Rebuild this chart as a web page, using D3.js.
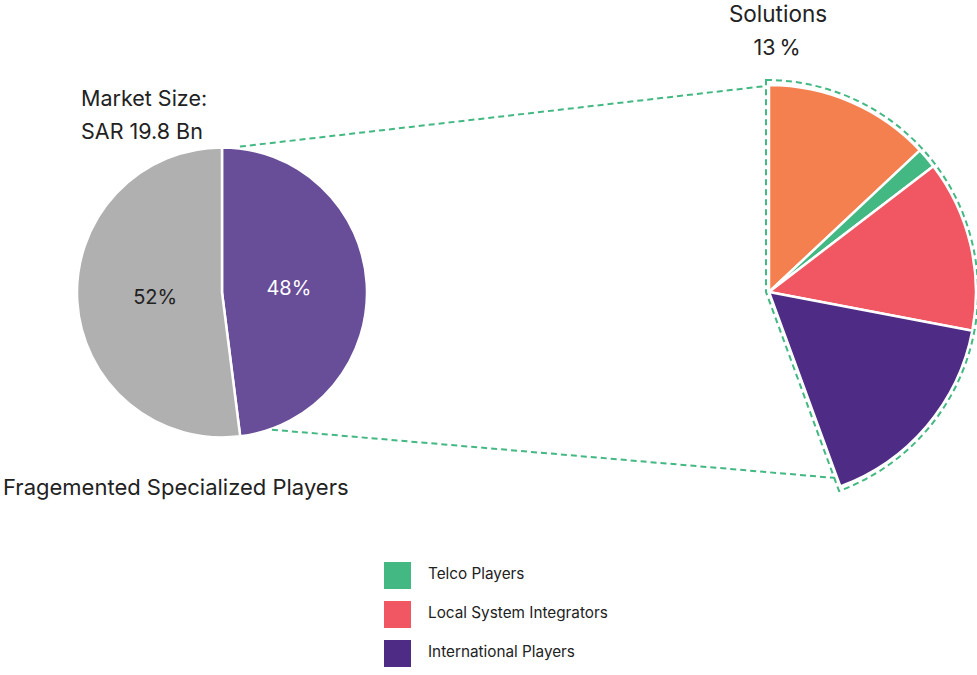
<!DOCTYPE html>
<html>
<head>
<meta charset="utf-8">
<script src="https://cdn.jsdelivr.net/npm/d3@7/dist/d3.min.js"></script>
<style>
  html, body { margin: 0; padding: 0; background: #fff; }
  svg { display: block; font-family: "Inter", "Noto Sans", sans-serif; }
</style>
</head>
<body>
<svg id="chart" width="977" height="675"></svg>
<script>
// Market split (percent of total market)
const marketCategories = ["Solutions", "Fragemented Specialized Players"];
const marketShares = [48, 52];
const marketColors = ["#684d98", "#b0b0b0"];
const marketLabelColors = ["#ffffff", "#222222"];

// Breakdown of the exploded share (percent of total market)
const segmentCategories = ["Solutions", "Telco Players", "Local System Integrators", "International Players"];
const segmentShares = [13, 1.6, 13.4, 16.4];
const segmentColors = ["#f4804f", "#43b883", "#f15663", "#4e2b84"];

// Legend entries
const legendCategories = ["Telco Players", "Local System Integrators", "International Players"];

const svg = d3.select("#chart");
const deg = Math.PI / 180;
const dashColor = "#43b883";
const polar = (c, r, a) => [c[0] + r * Math.sin(a), c[1] - r * Math.cos(a)];

// ---- left pie ----
const leftCenter = [222, 292.5];
const leftR = 145;
const leftPie = d3.pie().sort(null).value(d => d)(marketShares);
const leftArc = d3.arc().innerRadius(0).outerRadius(leftR);
const leftLabelArc = d3.arc().innerRadius(67).outerRadius(67);

const gl = svg.append("g").attr("transform", `translate(${leftCenter})`);
gl.selectAll("path").data(leftPie).join("path")
  .attr("d", leftArc)
  .attr("fill", (d, i) => marketColors[i])
  .attr("stroke", "#fff").attr("stroke-width", 2.5);
gl.selectAll("text").data(leftPie).join("text")
  .attr("transform", d => `translate(${leftLabelArc.centroid(d)})`)
  .attr("dy", "0.36em")
  .attr("text-anchor", "middle")
  .attr("font-size", 20)
  .attr("fill", (d, i) => marketLabelColors[i])
  .text(d => d.data + "%");

// ---- right partial pie ----
const rightCenter = [769, 292];
const rightR = 207;
const segTotal = d3.sum(segmentShares);
const endAngle = 2 * Math.PI * segTotal / 100;
const rightPie = d3.pie().sort(null).value(d => d)
  .startAngle(0).endAngle(endAngle)(segmentShares);
const rightArc = d3.arc().innerRadius(0).outerRadius(rightR);

const gr = svg.append("g").attr("transform", `translate(${rightCenter})`);
gr.selectAll("path").data(rightPie).join("path")
  .attr("d", rightArc)
  .attr("fill", (d, i) => segmentColors[i])
  .attr("stroke", "#fff").attr("stroke-width", 2.5)
  .attr("stroke-linejoin", "round");

// dashed outline around the exploded sector
const outlineCenter = [rightCenter[0] - 3, rightCenter[1]];
const outlineArc = d3.arc().innerRadius(0).outerRadius(212)
  .startAngle(0).endAngle(endAngle);
svg.append("path")
  .attr("transform", `translate(${outlineCenter})`)
  .attr("d", outlineArc())
  .attr("fill", "none")
  .attr("stroke", dashColor).attr("stroke-width", 2)
  .attr("stroke-dasharray", "6,4");

// connector lines between the two pies
const connectors = [
  [polar(leftCenter, 147, 7 * deg), polar(outlineCenter, 206, 0)],
  [polar(leftCenter, 146, 160 * deg), polar(outlineCenter, 198, endAngle)]
];
svg.selectAll("line.conn").data(connectors).join("line")
  .attr("class", "conn")
  .attr("x1", d => d[0][0]).attr("y1", d => d[0][1])
  .attr("x2", d => d[1][0]).attr("y2", d => d[1][1])
  .attr("stroke", dashColor).attr("stroke-width", 2)
  .attr("stroke-dasharray", "6,4");

// ---- titles ----
const textColor = "#222";
const title = (x, y, s, size, anchor = "start") => svg.append("text")
  .attr("x", x).attr("y", y).attr("font-size", size)
  .attr("fill", textColor).attr("text-anchor", anchor).text(s);

title(778, 21.5, segmentCategories[0], 22.5, "middle");
title(777, 55, segmentShares[0] + "\u2009%", 21.5, "middle");
title(81, 106, "Market Size:", 21.5);
title(81, 139, "SAR 19.8 Bn", 21.5);
title(3, 495, marketCategories[1], 22);

// ---- legend ----
const legend = svg.append("g").attr("transform", "translate(384,562)");
const legendY = d3.scalePoint().domain(legendCategories).range([0, 78]);
const lg = legend.selectAll("g").data(legendCategories).join("g")
  .attr("transform", d => `translate(0,${legendY(d)})`);
lg.append("rect").attr("width", 27).attr("height", 27)
  .attr("fill", d => segmentColors[segmentCategories.indexOf(d)]);
lg.append("text").attr("x", 44).attr("y", 16.5)
  .attr("font-size", 15.3).attr("fill", textColor).text(d => d);
</script>
</body>
</html>
